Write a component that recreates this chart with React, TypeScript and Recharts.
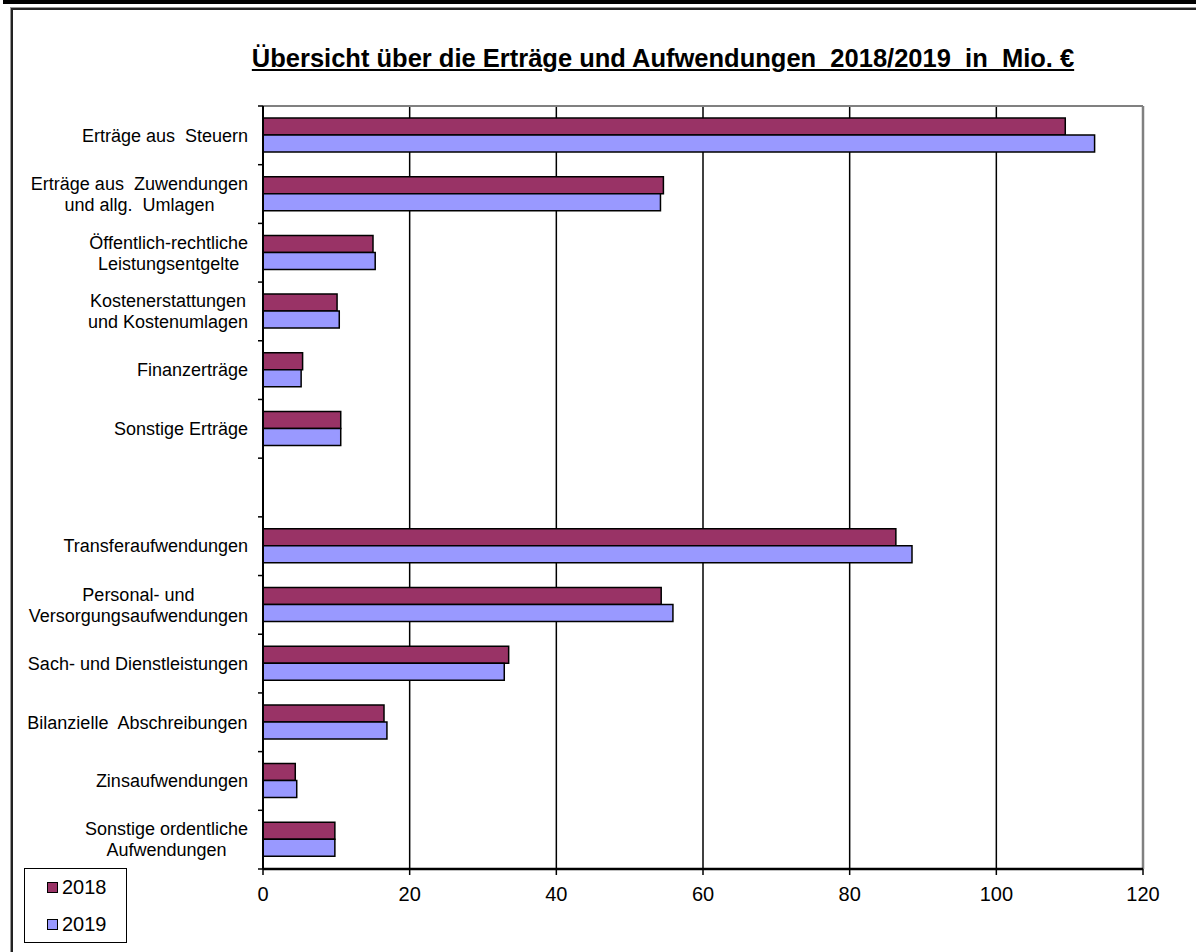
import React from 'react';
import {
    BarChart,
    Bar,
    XAxis,
    YAxis,
    CartesianGrid,
    ReferenceLine,
    Legend
} from 'recharts';

// Kategorien (leere Zeile trennt Erträge und Aufwendungen)
const categories = [
    'Erträge aus  Steuern',
    'Erträge aus  Zuwendungen\nund allg.  Umlagen',
    'Öffentlich-rechtliche\nLeistungsentgelte',
    'Kostenerstattungen\nund Kostenumlagen',
    'Finanzerträge',
    'Sonstige Erträge',
    '',
    'Transferaufwendungen',
    'Personal- und\nVersorgungsaufwendungen',
    'Sach- und Dienstleistungen',
    'Bilanzielle  Abschreibungen',
    'Zinsaufwendungen',
    'Sonstige ordentliche\nAufwendungen',
];

// Werte in Mio. €
const values2018 = [109.4, 54.6, 15.0, 10.1, 5.4, 10.6, null, 86.3, 54.3, 33.5, 16.5, 4.4, 9.8];
const values2019 = [113.4, 54.2, 15.3, 10.4, 5.2, 10.6, null, 88.5, 55.9, 32.9, 16.9, 4.6, 9.8];

const xTicks = [0, 20, 40, 60, 80, 100, 120];

const data = categories.map((name, i) => ({
    name,
    y2018: values2018[i],
    y2019: values2019[i],
}));

const FONT = '"Liberation Sans", Arial, sans-serif';
const W = 1196;
const H = 952;
const PLOT_LEFT = 263;
const PLOT_TOP = 106;
const PLOT_RIGHT = 1143;
const PLOT_BOTTOM = 869;
const BAND = (PLOT_BOTTOM - PLOT_TOP) / categories.length;
const LABEL_SIZE = 18;
const LABEL_RIGHT = 248;
const LINE_H = 21;

let ctx: CanvasRenderingContext2D | null = null;
function textWidth(s: string) {
    if (!ctx) ctx = document.createElement('canvas').getContext('2d');
    if (!ctx) return s.length * LABEL_SIZE * 0.5;
    ctx.font = `${LABEL_SIZE}px ${FONT}`;
    return ctx.measureText(s).width;
}

// Mehrzeilige Beschriftung: Zeilen zueinander zentriert, Block rechtsbündig
function CategoryTick(props: any) {
    const { payload, index } = props;
    const y = payload.coordinate;
    const lines = String(payload.value).split('\n').filter((l) => l.length > 0);
    const maxW = Math.max(0, ...lines.map(textWidth));
    const cx = LABEL_RIGHT - maxW / 2;
    const startY = y - ((lines.length - 1) * LINE_H) / 2;
    return (
        <g>
            <line x1={PLOT_LEFT - 5} x2={PLOT_LEFT} y1={y - BAND / 2} y2={y - BAND / 2} stroke="#000" strokeWidth={1.5} />
            {index === categories.length - 1 && (
                <line x1={PLOT_LEFT - 5} x2={PLOT_LEFT} y1={y + BAND / 2} y2={y + BAND / 2} stroke="#000" strokeWidth={1.5} />
            )}
            <text
                textAnchor="middle"
                fill="#000"
                fontSize={LABEL_SIZE}
                fontFamily={FONT}
                style={{ whiteSpace: 'pre' }}
            >
                {lines.map((l, i) => (
                    <tspan key={i} x={cx} y={startY + i * LINE_H} dy="0.35em">
                        {l}
                    </tspan>
                ))}
            </text>
        </g>
    );
}

function LegendBox(props: any) {
    const items = props.payload || [];
    return (
        <div
            style={{
                position: 'relative',
                width: 103,
                height: 75,
                border: '1px solid #000',
                boxSizing: 'border-box',
                background: '#fff',
                fontFamily: FONT,
                fontSize: 20,
                color: '#000',
            }}
        >
            {items.map((it: any, i: number) => (
                <div
                    key={it.value}
                    style={{
                        position: 'absolute',
                        left: 22,
                        top: 6 + i * 37,
                        height: 24,
                        display: 'flex',
                        alignItems: 'center',
                        lineHeight: '24px',
                    }}
                >
                    <span
                        style={{
                            display: 'inline-block',
                            width: 9,
                            height: 9,
                            background: it.color,
                            border: '1px solid #000',
                            marginRight: 4,
                        }}
                    />
                    <span>{it.value}</span>
                </div>
            ))}
        </div>
    );
}

export default function App() {
    return (
        <div style={{ position: 'fixed', left: 0, top: 0, width: W, height: H, overflow: 'hidden', background: '#fff', fontFamily: FONT }}>
            {/* Tabellenrand oberhalb */}
            <div style={{ position: 'absolute', left: 3, top: 0, width: W, height: 4, background: '#000' }} />
            {/* Rahmen des Diagrammbereichs */}
            <div style={{ position: 'absolute', left: 11, top: 8, width: W + 40, height: H + 40, border: '2px solid #222', boxShadow: '-1px -1px 0 #999' }} />

            <div
                style={{
                    position: 'absolute',
                    left: 0,
                    width: 1326,
                    top: 46,
                    textAlign: 'center',
                    fontSize: 25.5,
                    fontWeight: 'bold',
                    lineHeight: 1,
                    textDecoration: 'underline',
                    whiteSpace: 'pre',
                    color: '#000',
                }}
            >
                {'Übersicht über die Erträge und Aufwendungen  2018/2019  in  Mio. €'}
            </div>

            <div style={{ position: 'absolute', left: 0, top: 0 }}>
                <BarChart
                    width={W}
                    height={H}
                    data={data}
                    layout="vertical"
                    margin={{ top: PLOT_TOP, right: W - PLOT_RIGHT, bottom: H - PLOT_BOTTOM - 40, left: PLOT_LEFT - 250 }}
                    barGap={0}
                    barSize={17}
                >
                    <CartesianGrid horizontal={false} stroke="#000" strokeWidth={1.5} />
                    <CartesianGrid vertical={false} horizontalPoints={[PLOT_TOP]} stroke="#808080" strokeWidth={2} />
                    <XAxis
                        type="number"
                        domain={[0, 120]}
                        ticks={xTicks}
                        height={40}
                        axisLine={{ stroke: '#000', strokeWidth: 2.5 }}
                        tickLine={{ stroke: '#000', strokeWidth: 1.5 }}
                        tickSize={6}
                        tickMargin={12}
                        tick={{ fill: '#000', fontSize: 20, fontFamily: FONT }}
                    />
                    <YAxis
                        type="category"
                        dataKey="name"
                        width={250}
                        interval={0}
                        tickLine={false}
                        axisLine={{ stroke: '#000', strokeWidth: 2 }}
                        tick={<CategoryTick />}
                    />
                    <ReferenceLine x={120} stroke="#808080" strokeWidth={2.5} />
                    <Bar dataKey="y2018" name="2018" fill="#993366" stroke="#000" strokeWidth={1.5} isAnimationActive={false} />
                    <Bar dataKey="y2019" name="2019" fill="#9999FF" stroke="#000" strokeWidth={1.5} isAnimationActive={false} />
                    <Legend
                        layout="horizontal"
                        verticalAlign="middle"
                        align="center"
                        content={<LegendBox />}
                        wrapperStyle={{ left: 24, top: 868, width: 103, height: 75 }}
                    />
                </BarChart>
            </div>
        </div>
    );
}
